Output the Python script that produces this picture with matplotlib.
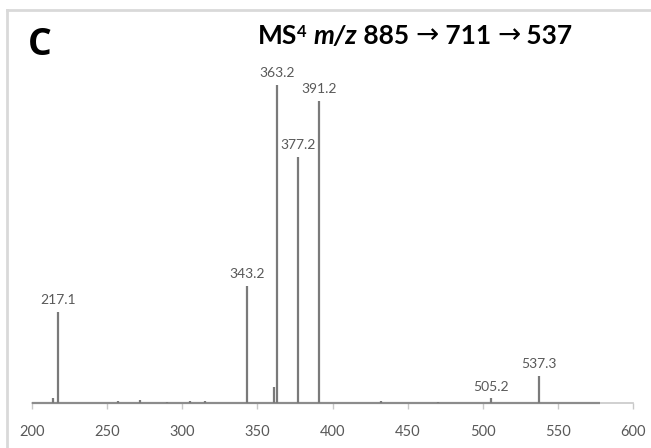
import matplotlib
matplotlib.use("Agg")
import matplotlib.pyplot as plt
from matplotlib.lines import Line2D

# peak list (m/z, relative intensity %)
peak_mz = [214.0, 217.1, 257.0, 272.0, 290.0, 305.0, 315.0, 343.2, 360.8,
           363.2, 377.2, 391.2, 432.0, 470.0, 505.2, 537.3]
peak_int = [1.5, 28.6, 0.5, 0.8, 0.4, 0.6, 0.5, 36.8, 5.0,
            100.0, 77.4, 95.0, 0.6, 0.4, 1.5, 8.5]
labelled = ['217.1', '343.2', '363.2', '377.2', '391.2', '505.2', '537.3']
scan_range = [200, 578]
x_ticks = [200, 250, 300, 350, 400, 450, 500, 550, 600]

W, H = 651, 448
fig = plt.figure(figsize=(W / 100, H / 100), dpi=100)

# axes placed in pixel units: x 200->32px, 600->633px, baseline at y=403, 100% at y=85
ax = fig.add_axes([32 / W, (H - 403) / H, (633 - 32) / W, (403 - 85) / H])
ax.set_xlim(200, 600)
ax.set_ylim(0, 100)

peak_col = '#7a7a7a'
ax.hlines(0, scan_range[0], scan_range[1], color='#8c8c8c', lw=1.6, zorder=3,
          clip_on=False)
ax.vlines(peak_mz, 0, peak_int, color=peak_col, lw=1.6, zorder=4, clip_on=False)

for mz, it in zip(peak_mz, peak_int):
    lab = f'{mz:.1f}'
    if lab in labelled:
        ax.annotate(lab, (mz, it), xytext=(0, 4), textcoords='offset points',
                    ha='center', va='bottom', fontsize=10, color='#595959',
                    family=['Lato', 'DejaVu Sans'], clip_on=False)

for s in ['left', 'right', 'top']:
    ax.spines[s].set_visible(False)
ax.spines['bottom'].set_color('#c8c8c8')
ax.spines['bottom'].set_linewidth(1.2)
ax.set_yticks([])
ax.set_xticks(x_ticks)
ax.tick_params(axis='x', colors='#c8c8c8', length=4, width=1.0, pad=12,
               labelcolor='#595959', labelsize=10.5)
for t in ax.get_xticklabels():
    t.set_family(['Lato', 'DejaVu Sans'])

# light frame on left and top
fig.add_artist(Line2D([7 / W, 7 / W], [0, 1 - 10 / H], color='#d9d9d9', lw=2,
                      transform=fig.transFigure))
fig.add_artist(Line2D([7 / W, 1], [1 - 10 / H, 1 - 10 / H], color='#d9d9d9',
                      lw=2, transform=fig.transFigure))

# panel letter
fig.text(28 / W, 1 - 55 / H, 'C', fontsize=27, fontweight='bold',
         family=['Open Sans', 'DejaVu Sans'], va='baseline', ha='left')

# title built from pieces
pieces = [('MS', 'normal', 0, 19), ('4', 'normal', 7, 12), (' ', 'normal', 0, 19),
          ('m/z', 'italic', 0, 19), (' 885 ', 'normal', 0, 19), ('\u2192', 'arrow', 0, 20),
          (' 711 ', 'normal', 0, 19), ('\u2192', 'arrow', 0, 20), (' 537', 'normal', 0, 19)]
fig.canvas.draw()
renderer = fig.canvas.get_renderer()
x = 258.0
base_y = 44.0
for txt, style, rise, size in pieces:
    if style == 'arrow':
        t = fig.text(x / W, 1 - (base_y - 1) / H, txt, fontsize=size,
                     family=['DejaVu Sans'], va='baseline', ha='left')
    else:
        t = fig.text(x / W, 1 - (base_y - rise) / H, txt, fontsize=size,
                     fontweight='bold', fontstyle='italic' if style == 'italic' else 'normal',
                     family=['Lato', 'DejaVu Sans'], va='baseline', ha='left')
    bb = t.get_window_extent(renderer)
    x += bb.width

fig.savefig('out.png', dpi=100)
